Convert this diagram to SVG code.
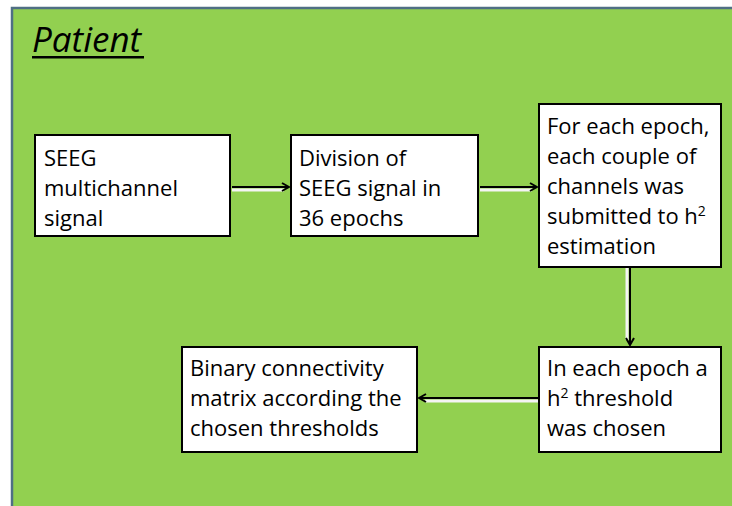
<svg xmlns="http://www.w3.org/2000/svg" width="732" height="506" viewBox="0 0 732 506">
  <defs>
    <marker id="head" viewBox="0 0 10 10" refX="9" refY="5" markerWidth="10" markerHeight="10" markerUnits="userSpaceOnUse" orient="auto">
      <polyline points="2,1 9,5 2,9" fill="none" stroke="#000" stroke-width="2" stroke-linejoin="miter"/>
    </marker>
  </defs>
  <style>
    .box { fill: #ffffff; stroke: #000000; stroke-width: 2; }
    .lbl { font-family: "Open Sans", "Liberation Sans", sans-serif; font-size: 22px; fill: #000; }
    .sup { font-size: 14px; }
    .sheen { stroke: #f4f4f4; stroke-width: 3; fill: none; }
    .wire { stroke: #000; stroke-width: 2; fill: none; marker-end: url(#head); }
  </style>

  <rect x="0" y="0" width="732" height="506" fill="#ffffff"/>
  <!-- patient panel -->
  <rect x="12" y="8" width="722" height="502" fill="#92d050" stroke="#4f6f84" stroke-width="2.5"/>
  <text x="32" y="52" font-family="Open Sans, Liberation Sans, sans-serif" font-size="35" font-style="italic" fill="#000">Patient</text>
  <rect x="32" y="56" width="112" height="2.5" fill="#000"/>

  <g id="connectors">
    <line class="sheen" x1="232" y1="190" x2="284" y2="190"/>
    <line class="wire" x1="232" y1="187" x2="289" y2="187"/>
    <line class="sheen" x1="480" y1="190" x2="532" y2="190"/>
    <line class="wire" x1="480" y1="187" x2="537" y2="187"/>
    <line class="sheen" x1="627" y1="268" x2="627" y2="340"/>
    <line class="wire" x1="630" y1="268" x2="630" y2="345"/>
    <line class="sheen" x1="538" y1="401" x2="425" y2="401"/>
    <line class="wire" x1="538" y1="398" x2="419" y2="398"/>
  </g>

  <g id="seeg-signal">
    <rect class="box" x="35" y="135" width="195" height="101"/>
    <text class="lbl" x="44" y="166">SEEG</text>
    <text class="lbl" x="44" y="196">multichannel</text>
    <text class="lbl" x="44" y="226">signal</text>
  </g>

  <g id="division">
    <rect class="box" x="291" y="135" width="187" height="101"/>
    <text class="lbl" x="299" y="166">Division of</text>
    <text class="lbl" x="299" y="196">SEEG signal in</text>
    <text class="lbl" x="299" y="226">36 epochs</text>
  </g>

  <g id="estimation">
    <rect class="box" x="539" y="104" width="182" height="163"/>
    <text class="lbl" x="547" y="134">For each epoch,</text>
    <text class="lbl" x="547" y="164">each couple of</text>
    <text class="lbl" x="547" y="194">channels was</text>
    <text class="lbl" x="547" y="224">submitted to h<tspan class="sup" dy="-8">2</tspan></text>
    <text class="lbl" x="547" y="254">estimation</text>
  </g>

  <g id="threshold">
    <rect class="box" x="539" y="347" width="182" height="105"/>
    <text class="lbl" x="547" y="376">In each epoch a</text>
    <text class="lbl" x="547" y="406">h<tspan class="sup" dy="-8">2</tspan><tspan dy="8"> threshold</tspan></text>
    <text class="lbl" x="547" y="436">was chosen</text>
  </g>

  <g id="binary-matrix">
    <rect class="box" x="182" y="347" width="235" height="105"/>
    <text class="lbl" x="190" y="376">Binary connectivity</text>
    <text class="lbl" x="190" y="406">matrix according the</text>
    <text class="lbl" x="190" y="436">chosen thresholds</text>
  </g>
</svg>
